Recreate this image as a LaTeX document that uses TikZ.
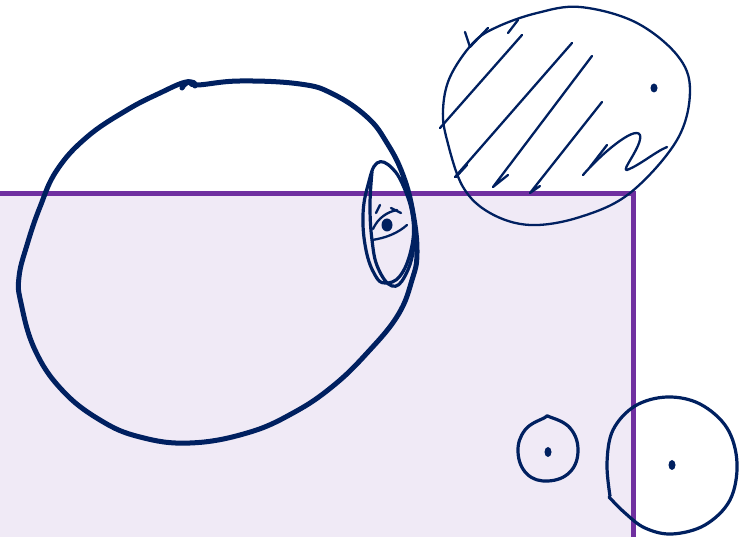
\documentclass[tikz,border=0pt]{standalone}
\usepackage{tikz}
\definecolor{inkblue}{HTML}{002060}
\definecolor{boxpurple}{HTML}{7030A0}
\definecolor{boxfill}{HTML}{F0EAF6}

\begin{document}
\begin{tikzpicture}[
    x=1pt, y=-1pt,
    ink/.style={draw=inkblue, line cap=round, line join=round},
    thickink/.style={ink, line width=5pt},
    midink/.style={ink, line width=3.2pt},
    thinink/.style={ink, line width=2.3pt},
    dotmark/.style={fill=inkblue, draw=none},
    region/.style={draw=boxpurple, fill=boxfill, line width=5pt}
]
    \useasboundingbox (0,0) rectangle (756,537);
    \clip (0,0) rectangle (756,537);

    % Shaded region
    \path [region] (-10,194) rectangle (633,560);

    % Large circle
    \draw [thickink] plot [smooth cycle, tension=0.7] coordinates {
        (197,85) (240,81) (300,84) (333,94) (367,117) (387,143)
        (403,175) (413,213) (417,253) (412,280) (398,315) (368,352)
        (333,386) (293,413) (247,433) (190,443) (140,437) (100,420)
        (62,390) (35,350) (21,303) (19,277) (27,245) (40,207) (57,170)
        (87,137) (127,110) (160,93) (186,82)};
    \draw [thickink] (182,88) .. controls (186,80) and (196,80) .. (195,86);

    % Eye
    \draw [midink] plot [smooth cycle, tension=0.7] coordinates {
        (377,163) (368,185) (363,215) (366,250) (375,275) (385,283)
        (400,276) (411,250) (413,220) (405,190) (392,168)};
    \draw [midink] plot [smooth, tension=0.7] coordinates {
        (372,172) (370,205) (372,240) (378,268) (392,286) (405,276)
        (414,245) (412,205) (400,178)};
    \draw [thinink] (373,229) .. controls (378,218) and (387,212) .. (397,210);
    \draw [thinink] (372,240) .. controls (386,238) and (398,233) .. (407,225);
    \draw [thinink] (391,208) -- (401,213);
    \draw [thinink] (380,205) -- (376,213);
    \path [dotmark] (387,225) ellipse [x radius=5.5pt, y radius=6.5pt];

    % Hatched circle
    \draw [thinink] plot [smooth cycle, tension=0.6] coordinates {
        (537,13) (580,7) (635,22) (677,55) (690,90) (677,140) (630,193)
        (580,217) (530,225) (490,213) (463,187) (447,140) (443,110)
        (450,77) (473,43) (497,27)};
    \draw [thinink] (465,32) -- (470,47) -- (488,28);
    \draw [thinink] (508,33) -- (518,20);
    \draw [thinink] (440,128) -- (522,35);
    \draw [thinink] (455,177) -- (572,43);
    \draw [thinink] (456,177) -- (467,165);
    \draw [thinink] (592,56) -- (493,187) -- (508,175);
    \draw [thinink] (602,102) -- (530,193) -- (540,186);
    \draw [thinink] (583,175) .. controls (600,155) and (635,125) .. (640,135)
        .. controls (643,145) and (620,172) .. (627,170)
        .. controls (640,165) and (655,152) .. (667,147);
    \draw [thinink] (590,167) -- (607,145);
    \path [dotmark] (654,88) ellipse [x radius=3.5pt, y radius=4.5pt];

    % Small circle
    \draw [midink] plot [smooth cycle, tension=0.7] coordinates {
        (550,417) (570,428) (578,450) (570,472) (548,481) (527,474)
        (518,452) (525,430) (544,418)};
    \path [dotmark] (548,452) ellipse [x radius=3.5pt, y radius=5pt];

    % Right circle
    \draw [midink] plot [smooth, tension=0.6] coordinates {
        (610,496) (607,463) (613,430) (635,406) (667,397) (700,404)
        (727,428) (737,463) (730,500) (705,525) (672,534) (645,528)
        (625,513) (609,497)};
    \path [dotmark] (672,465) ellipse [x radius=3.5pt, y radius=5pt];
\end{tikzpicture}
\end{document}
